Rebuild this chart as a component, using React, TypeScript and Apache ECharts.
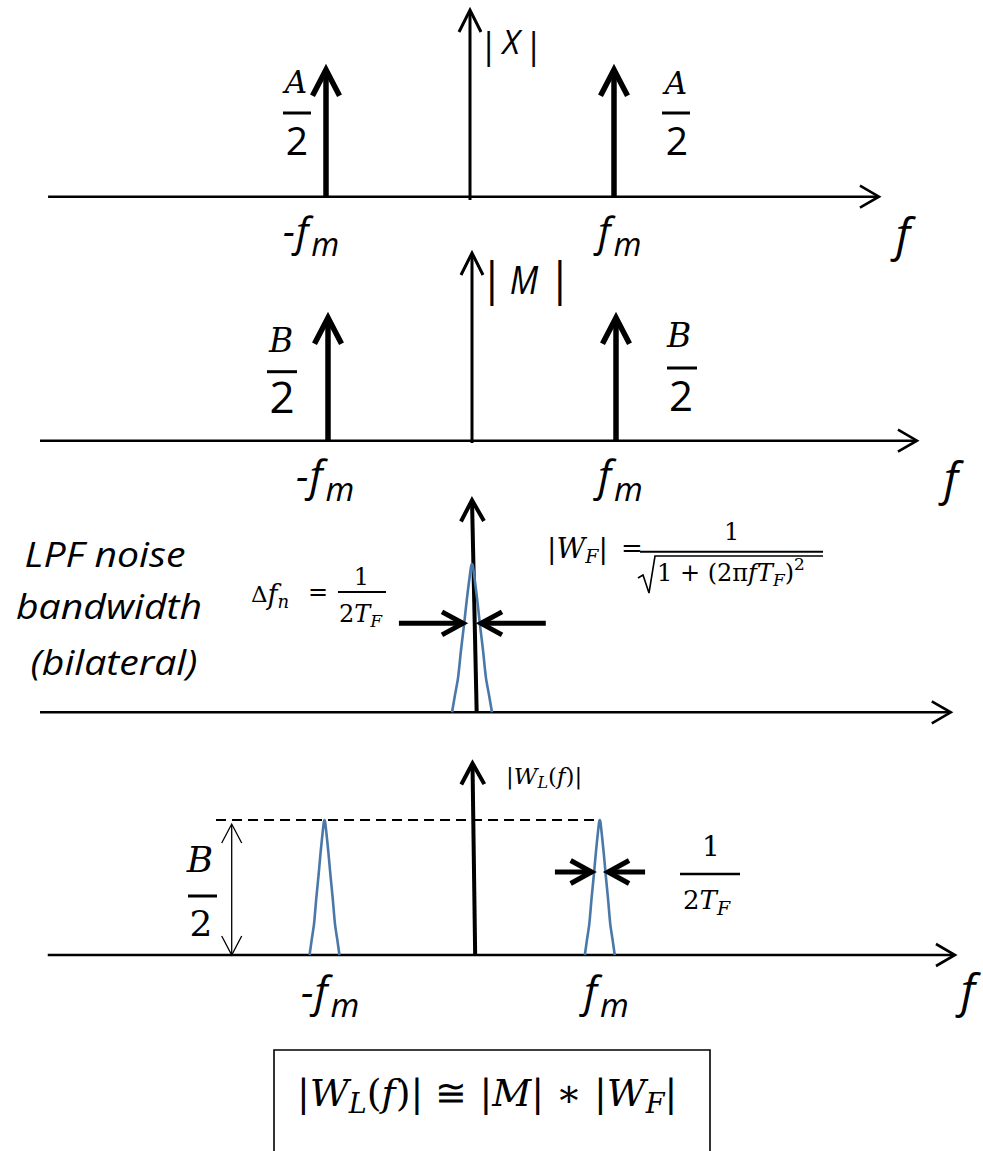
import React, { useEffect, useRef } from "react";
import * as echarts from "echarts";

const W = 983;
const H = 1151;

// |X| : line spectrum of the tone (frequency in units of fm, amplitude in units of A/2)
const xLineFreqs = [-1, 1];
const xLineAmps = [1, 1];

// |M| : line spectrum of the reference (amplitude in units of B/2)
const mLineFreqs = [-1, 1];
const mLineAmps = [1, 1];

// |W_F| lineshape: offset in units of the half base width, level relative to the peak
const wfShapeOffset = [-1, -0.86, -0.7, -0.55, -0.39, -0.26, -0.05, 0, 0.05, 0.26, 0.39, 0.55, 0.7, 0.86, 1];
const wfShapeLevel = [0, 0.11, 0.23, 0.42, 0.6, 0.76, 0.98, 1, 0.98, 0.76, 0.6, 0.42, 0.23, 0.11, 0];

// |W_F| panel, frequency in units of Δf_n
const wfCenter = 0;
const wfHalfBase = 1.11;
const wfBandEdges = [-0.5, 0.5];
const wfBandTails = [-4.06, 4.1];
const wfBandLevel = 0.6;

// |W_L(f)| panel, frequency in units of fm, amplitude in units of B/2
const wlPeakFreqs = [-1, 0.86];
const wlPeakAmps = [1, 1];
const wlHalfBase = 0.101;
const wlBandEdges = [0.805, 0.916];
const wlBandTails = [0.557, 1.166];
const wlBandLevel = 0.615;
const wlRefStart = -1.733;
const wlRefArrowFreq = -1.627;

// axis extents per panel (frequency range, amplitude range, foot offset of the vertical axis)
const freqAxisRange = [[-2.93, 2.84], [-3.0, 3.09], [-24, 26.6], [-2.87, 3.26]];
const ampAxisRange = [[-0.026, 1.47], [-0.019, 1.526], [0, 1.43], [0, 1.42]];
const ampAxisFoot = [0, 0, 0.26, 0.018];

// pixel placement of each panel: origin (cx, by) and scale (kx, ky)
const PANELS = [
  { cx: 470, kx: 144, by: 196.7, ky: 127 },
  { cx: 472, kx: 144, by: 440.7, ky: 123 },
  { cx: 472, kx: 18, by: 712.3, ky: 148.3 },
  { cx: 472.5, kx: 148, by: 955, ky: 135 },
];

const BLUE = "#4a78a9";
const SANS = '"Open Sans", "Liberation Sans", sans-serif';
const SERIF = '"DejaVu Serif", "Liberation Serif", serif';

type ArrowStyle = { width: number; back: number; half: number; headWidth?: number; double?: boolean };
const AXIS_H: ArrowStyle = { width: 2.6, back: 19, half: 11 };
const AXIS_V: ArrowStyle = { width: 3, back: 22, half: 11 };
const AXIS_V_BOLD: ArrowStyle = { width: 4, back: 21, half: 11.5 };
const IMPULSE: ArrowStyle = { width: 5.5, back: 26, half: 13.5 };
const BAND: ArrowStyle = { width: 5, back: 21, half: 11.5 };
const THIN_DOUBLE: ArrowStyle = { width: 1.3, back: 19, half: 10, double: true };

function arrowRenderer(st: ArrowStyle) {
  return (_params: any, api: any) => {
    const p0 = api.coord([api.value(0), api.value(1)]);
    const p1 = api.coord([api.value(2), api.value(3)]);
    const dx = p1[0] - p0[0];
    const dy = p1[1] - p0[1];
    const len = Math.hypot(dx, dy) || 1;
    const ux = dx / len;
    const uy = dy / len;
    const nx = -uy;
    const ny = ux;
    const head = (tip: number[], dirx: number, diry: number) => {
      const bx = tip[0] - dirx * st.back;
      const by = tip[1] - diry * st.back;
      return {
        type: "polyline",
        shape: {
          points: [
            [bx + nx * st.half, by + ny * st.half],
            [tip[0], tip[1]],
            [bx - nx * st.half, by - ny * st.half],
          ],
        },
        style: { stroke: "#000", lineWidth: st.headWidth ?? st.width, fill: "none", lineJoin: "miter", lineCap: "butt" },
      };
    };
    const inset = st.width * 0.7;
    const s = st.double ? [p0[0] + ux * inset, p0[1] + uy * inset] : p0;
    const e = [p1[0] - ux * inset, p1[1] - uy * inset];
    const children: any[] = [
      {
        type: "line",
        shape: { x1: s[0], y1: s[1], x2: e[0], y2: e[1] },
        style: { stroke: "#000", lineWidth: st.width, lineCap: "butt" },
      },
      head(p1, ux, uy),
    ];
    if (st.double) children.push(head(p0, -ux, -uy));
    return { type: "group", children };
  };
}

function arrowSeries(panel: number, st: ArrowStyle, data: number[][], z = 3) {
  return {
    type: "custom",
    coordinateSystem: "cartesian2d",
    xAxisIndex: panel,
    yAxisIndex: panel,
    clip: false,
    silent: true,
    z,
    renderItem: arrowRenderer(st),
    data,
  };
}

function axisSeries(panel: number, vStyle: ArrowStyle) {
  const [f0, f1] = freqAxisRange[panel];
  const [a0, a1] = ampAxisRange[panel];
  return [
    arrowSeries(panel, AXIS_H, [[f0, 0, f1, 0]], 2),
    arrowSeries(panel, vStyle, [[ampAxisFoot[panel], a0, 0, a1]], 4),
  ];
}

function peakData(center: number, halfBase: number, amp: number) {
  return wfShapeOffset.map((o, i) => [center + o * halfBase, wfShapeLevel[i] * amp]);
}

function peakSeries(panel: number, data: number[][]) {
  return {
    type: "line",
    xAxisIndex: panel,
    yAxisIndex: panel,
    data,
    showSymbol: false,
    smooth: 0.25,
    silent: true,
    clip: false,
    z: 5,
    lineStyle: { color: BLUE, width: 2.6 },
  };
}

// ---------- text helpers ----------
let measureCtx: CanvasRenderingContext2D | null = null;
function measure(text: string, font: string) {
  if (!measureCtx) measureCtx = document.createElement("canvas").getContext("2d");
  measureCtx!.font = font;
  return measureCtx!.measureText(text).width;
}

type Seg = { t: string; size: number; it?: boolean; fam?: string; dy?: number; gap?: number };

function fontOf(size: number, it?: boolean, fam?: string) {
  return `${it ? "italic " : ""}${size}px ${fam || SERIF}`;
}

function txt(
  t: string,
  x: number,
  y: number,
  size: number,
  opt: { it?: boolean; fam?: string; align?: string; sx?: number; sy?: number } = {}
) {
  const align = opt.align || "center";
  return {
    type: "text",
    x,
    y,
    scaleX: opt.sx ?? 1,
    scaleY: opt.sy ?? 1,
    silent: true,
    z: 10,
    style: {
      text: t,
      font: fontOf(size, opt.it, opt.fam),
      fill: "#000",
      align,
      textAlign: align,
      verticalAlign: "middle",
      textVerticalAlign: "middle",
    },
  };
}

function seq(x: number, y: number, segs: Seg[], sx = 1) {
  const out: any[] = [];
  let cx = x;
  for (const s of segs) {
    out.push(txt(s.t, cx, y + (s.dy || 0), s.size, { it: s.it, fam: s.fam, align: "left", sx }));
    cx += measure(s.t, fontOf(s.size, s.it, s.fam)) * sx + (s.gap || 0);
  }
  return out;
}

function bar(x1: number, x2: number, y: number, w = 2.5) {
  return { type: "line", silent: true, z: 10, shape: { x1, y1: y, x2, y2: y }, style: { stroke: "#000", lineWidth: w } };
}

// "-f_m" / "f_m" tick captions
function fmLabel(x: number, y: number, neg: boolean, fs: number, ms: number, mdy: number) {
  const segs: Seg[] = [];
  if (neg) segs.push({ t: "-", size: fs - 2, it: true, fam: SANS, gap: 1 });
  segs.push({ t: "f", size: fs, it: true, fam: SANS, gap: 3 });
  segs.push({ t: "m", size: ms, it: true, fam: SANS, dy: mdy });
  return seq(x, y, segs);
}

function buildGraphics() {
  const g: any[] = [];
  // ----- panel 1 : |X|
  g.push(txt("|", 488, 44, 36, { it: true, fam: SANS }));
  g.push(txt("X", 511, 41, 33, { it: true, fam: SANS }));
  g.push(txt("|", 533, 44, 36, { it: true, fam: SANS }));
  g.push(txt("A", 296, 82, 31, { it: true }), bar(283, 311, 113, 3), txt("2", 297, 139, 39, { fam: SANS }));
  g.push(txt("A", 676, 83, 31, { it: true }), bar(662, 690, 113, 3), txt("2", 677, 139, 39, { fam: SANS }));
  g.push(...fmLabel(283, 230, true, 40, 32, 13));
  g.push(...fmLabel(598, 230, false, 40, 32, 13));
  g.push(txt("f", 903, 233, 46, { it: true, fam: SANS }));

  // ----- panel 2 : |M|
  g.push(txt("|", 491, 277, 46, { it: true, fam: SANS }));
  g.push(txt("M", 524, 279, 34, { it: true, fam: SANS, sy: 1.15 }));
  g.push(txt("|", 559, 277, 46, { it: true, fam: SANS }));
  g.push(txt("B", 281, 340, 33, { it: true }), bar(267, 297, 371.7, 3), txt("2", 282, 396, 44, { fam: SANS }));
  g.push(txt("B", 679, 335, 33, { it: true }), bar(667, 697, 368, 3), txt("2", 681, 394, 42, { fam: SANS }));
  g.push(...fmLabel(296, 474, true, 42, 33, 14));
  g.push(...fmLabel(598, 474, false, 42, 33, 14));
  g.push(txt("f", 951, 477, 46, { it: true, fam: SANS }));

  // ----- panel 3 : |W_F|
  g.push(txt("LPF noise", 105, 553, 35, { it: true, fam: SANS, sx: 1.12 }));
  g.push(txt("bandwidth", 109, 605, 35, { it: true, fam: SANS, sx: 1.12 }));
  g.push(txt("(bilateral)", 114, 661, 35, { it: true, fam: SANS, sx: 1.12 }));
  g.push(...seq(251, 594, [{ t: "Δ", size: 23 }, { t: "f", size: 27, it: true }, { t: "n", size: 18, it: true, dy: 7 }]));
  g.push(txt("=", 318, 592, 24));
  g.push(txt("1", 361.5, 577, 24), bar(338, 386, 592, 2));
  g.push(...seq(339, 614, [{ t: "2", size: 24 }, { t: "T", size: 24, it: true }, { t: "F", size: 17, it: true, dy: 7 }]));
  g.push(...seq(547, 548, [{ t: "|", size: 28 }, { t: "W", size: 28, it: true }, { t: "F", size: 19, it: true, dy: 8 }, { t: "|", size: 28 }]));
  g.push(txt("=", 632, 548, 26));
  g.push(txt("1", 731.7, 531.5, 24), bar(640, 823, 551.7, 2));
  g.push({
    type: "polyline",
    silent: true,
    z: 10,
    shape: { points: [[638, 578], [643, 575], [649, 593], [655, 556], [823, 556]] },
    style: { stroke: "#000", lineWidth: 1.6, fill: "none" },
  });
  g.push(
    ...seq(657, 573, [
      { t: "1 + (2π", size: 24 },
      { t: "f", size: 24, it: true },
      { t: "T", size: 24, it: true },
      { t: "F", size: 17, it: true, dy: 7 },
      { t: ")", size: 24 },
      { t: "2", size: 17, dy: -9 },
    ])
  );

  // ----- panel 4 : |W_L(f)|
  g.push(
    ...seq(506, 776, [
      { t: "|", size: 23 },
      { t: "W", size: 23, it: true },
      { t: "L", size: 16, it: true, dy: 6 },
      { t: "(", size: 23 },
      { t: "f", size: 23, it: true },
      { t: ")|", size: 23 },
    ])
  );
  g.push(txt("B", 200, 859, 36, { it: true }), bar(188, 217, 896, 3), txt("2", 201, 923, 36));
  g.push(txt("1", 711, 846, 28), bar(680, 740, 874, 2.5));
  g.push(...seq(683, 900, [{ t: "2", size: 26 }, { t: "T", size: 26, it: true }, { t: "F", size: 19, it: true, dy: 8 }]));
  g.push(...fmLabel(301, 990, true, 42, 33, 14));
  g.push(...fmLabel(584, 990, false, 42, 33, 14));
  g.push(txt("f", 968, 989, 46, { it: true, fam: SANS }));

  // ----- boxed relation
  g.push({
    type: "rect",
    silent: true,
    z: 10,
    shape: { x: 274, y: 1050, width: 436, height: 120 },
    style: { stroke: "#000", lineWidth: 1.6, fill: "none" },
  });
  g.push(
    ...seq(297, 1093, [
      { t: "|", size: 38 },
      { t: "W", size: 38, it: true },
      { t: "L", size: 27, it: true, dy: 10 },
      { t: "(", size: 38 },
      { t: "f", size: 38, it: true },
      { t: ")| ≅ |", size: 38 },
      { t: "M", size: 38, it: true },
      { t: "| ∗ |", size: 38 },
      { t: "W", size: 38, it: true },
      { t: "F", size: 27, it: true, dy: 10 },
      { t: "|", size: 38 },
    ])
  );
  return g;
}

function buildOption() {
  const grid = PANELS.map(() => ({ left: 0, top: 0, width: W, height: H, containLabel: false }));
  const xAxis = PANELS.map((p, i) => ({
    type: "value",
    gridIndex: i,
    min: -p.cx / p.kx,
    max: (W - p.cx) / p.kx,
    show: false,
  }));
  const yAxis = PANELS.map((p, i) => ({
    type: "value",
    gridIndex: i,
    min: -(H - p.by) / p.ky,
    max: p.by / p.ky,
    show: false,
  }));

  const series: any[] = [];
  // panel 1
  series.push(...axisSeries(0, AXIS_V));
  series.push(arrowSeries(0, IMPULSE, xLineFreqs.map((f, i) => [f, 0, f, xLineAmps[i]]), 5));
  // panel 2
  series.push(...axisSeries(1, AXIS_V));
  series.push(arrowSeries(1, IMPULSE, mLineFreqs.map((f, i) => [f, 0, f, mLineAmps[i]]), 5));
  // panel 3
  series.push(...axisSeries(2, AXIS_V_BOLD));
  series.push(peakSeries(2, peakData(wfCenter, wfHalfBase, 1)));
  series.push(
    arrowSeries(2, BAND, [
      [wfBandTails[0], wfBandLevel, wfBandEdges[0], wfBandLevel],
      [wfBandTails[1], wfBandLevel, wfBandEdges[1], wfBandLevel],
    ], 6)
  );
  // panel 4
  series.push(...axisSeries(3, AXIS_V_BOLD));
  wlPeakFreqs.forEach((f, i) => series.push(peakSeries(3, peakData(f, wlHalfBase, wlPeakAmps[i]))));
  series.push({
    type: "line",
    xAxisIndex: 3,
    yAxisIndex: 3,
    data: [[wlRefStart, wlPeakAmps[0]], [wlPeakFreqs[1], wlPeakAmps[1]]],
    showSymbol: false,
    silent: true,
    clip: false,
    z: 3,
    lineStyle: { color: "#000", width: 2, type: [10, 6] },
  });
  series.push(arrowSeries(3, THIN_DOUBLE, [[wlRefArrowFreq, 0, wlRefArrowFreq, 0.97]], 6));
  series.push(
    arrowSeries(3, BAND, [
      [wlBandTails[0], wlBandLevel, wlBandEdges[0], wlBandLevel],
      [wlBandTails[1], wlBandLevel, wlBandEdges[1], wlBandLevel],
    ], 6)
  );

  return {
    animation: false,
    backgroundColor: "#ffffff",
    grid,
    xAxis,
    yAxis,
    series,
    graphic: { elements: buildGraphics() },
  };
}

export default function App() {
  const ref = useRef<HTMLDivElement>(null);
  useEffect(() => {
    if (!ref.current) return;
    const chart = echarts.init(ref.current, undefined, { renderer: "svg" });
    chart.setOption(buildOption() as any);
    return () => chart.dispose();
  }, []);
  return <div ref={ref} style={{ position: "absolute", left: 0, top: 0, width: W, height: H }} />;
}
